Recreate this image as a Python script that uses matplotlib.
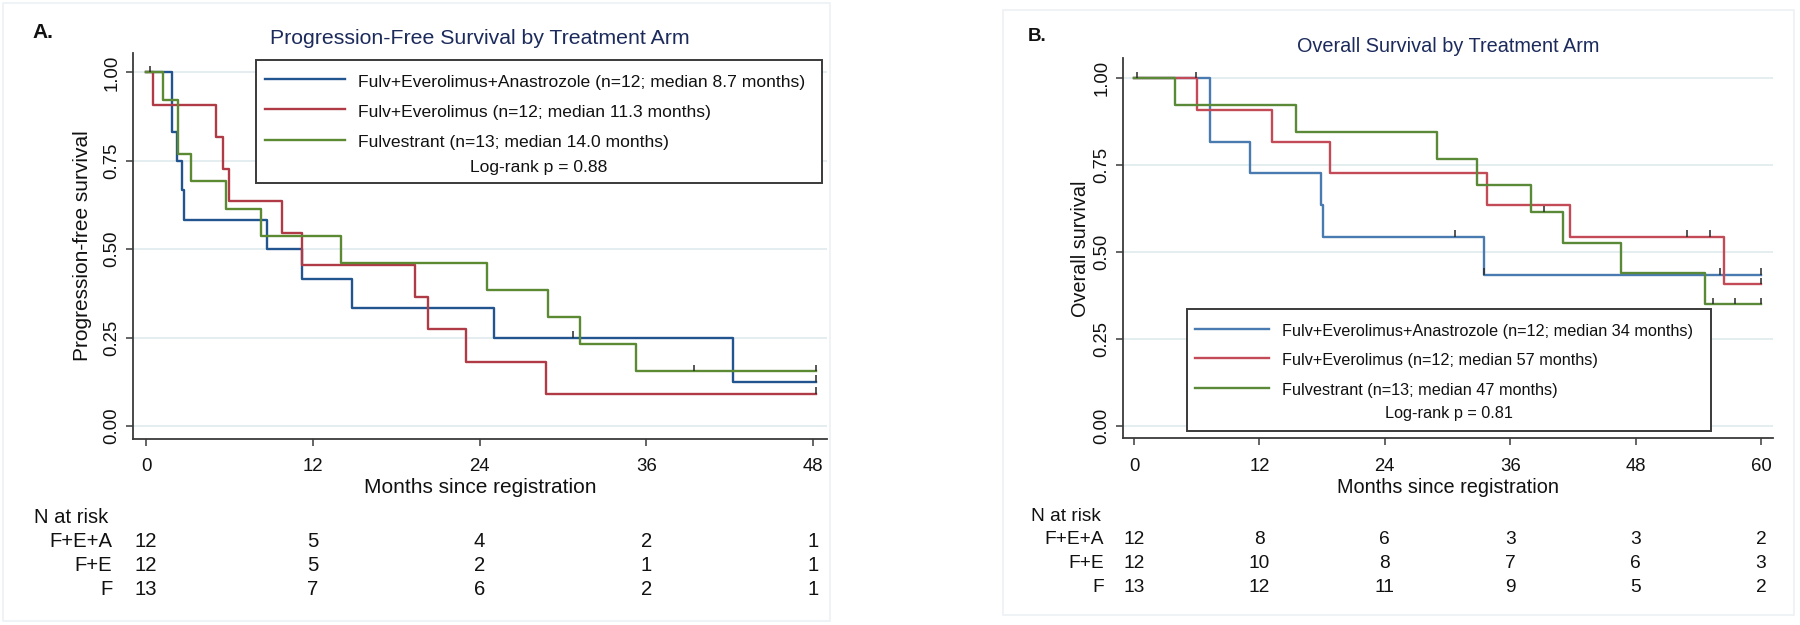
import matplotlib
matplotlib.use("Agg")
import numpy as np
import matplotlib.pyplot as plt
import matplotlib.transforms as mtransforms
from matplotlib.lines import Line2D
from matplotlib.patches import Rectangle

plt.rcParams['font.family'] = ['Liberation Sans', 'DejaVu Sans']

W, H = 1800, 625

# ---------------- Panel A: progression-free survival ----------------
pfs_xticks = [0, 12, 24, 36, 48]
pfs_fea_t = [0, 1.9, 2.2, 2.57, 2.76, 8.68, 11.2, 14.8, 25.06, 42.2, 48.2]
pfs_fea_s = [1.0, 0.833, 0.75, 0.667, 0.583, 0.5, 0.417, 0.333, 0.25, 0.125, 0.125]
pfs_fea_cens = [30.7, 48.2]
pfs_fe_t = [0, 0.53, 5.04, 5.5, 5.97, 9.8, 11.25, 19.35, 20.3, 23.0, 28.8, 48.2]
pfs_fe_s = [1.0, 0.909, 0.818, 0.727, 0.636, 0.545, 0.455, 0.364, 0.273, 0.182, 0.091, 0.091]
pfs_fe_cens = [0.29, 48.2]
pfs_f_t = [0, 1.2, 2.33, 3.26, 5.76, 8.3, 14.0, 24.55, 28.9, 31.2, 35.25, 48.2]
pfs_f_s = [1.0, 0.923, 0.769, 0.692, 0.615, 0.538, 0.462, 0.385, 0.308, 0.231, 0.154, 0.154]
pfs_f_cens = [39.4, 48.2]
pfs_labels = ['Fulv+Everolimus+Anastrozole (n=12; median 8.7 months)',
              'Fulv+Everolimus (n=12; median 11.3 months)',
              'Fulvestrant (n=13; median 14.0 months)']
pfs_logrank = 'Log-rank p = 0.88'
pfs_risk_fea = [12, 5, 4, 2, 1]
pfs_risk_fe = [12, 5, 2, 1, 1]
pfs_risk_f = [13, 7, 6, 2, 1]

# ---------------- Panel B: overall survival ----------------
os_xticks = [0, 12, 24, 36, 48, 60]
os_fea_t = [0, 7.27, 11.1, 17.9, 18.1, 33.5, 60.0]
os_fea_s = [1.0, 0.818, 0.727, 0.636, 0.545, 0.436, 0.436]
os_fea_cens = [0.3, 30.7, 33.5, 56.1, 60.0]
os_fe_t = [0, 6.06, 13.2, 18.8, 33.75, 41.7, 56.5, 60.0]
os_fe_s = [1.0, 0.909, 0.818, 0.727, 0.636, 0.545, 0.409, 0.409]
os_fe_cens = [5.93, 52.9, 55.1, 60.0]
os_f_t = [0, 3.92, 15.5, 28.97, 32.85, 38.0, 41.1, 46.6, 54.6, 60.0]
os_f_s = [1.0, 0.923, 0.846, 0.769, 0.692, 0.615, 0.527, 0.44, 0.352, 0.352]
os_f_cens = [39.2, 55.4, 57.5, 60.0]
os_labels = ['Fulv+Everolimus+Anastrozole (n=12; median 34 months)',
             'Fulv+Everolimus (n=12; median 57 months)',
             'Fulvestrant (n=13; median 47 months)']
os_logrank = 'Log-rank p = 0.81'
os_risk_fea = [12, 8, 6, 3, 3, 2]
os_risk_fe = [12, 10, 8, 7, 6, 3]
os_risk_f = [13, 12, 11, 9, 5, 2]

arm_names = ['F+E+A', 'F+E', 'F']
yticks = [0, 0.25, 0.5, 0.75, 1.0]

fig = plt.figure(figsize=(W / 100, H / 100), dpi=100)
fig.patch.set_facecolor('white')


def fx(x):
    return x / W


def fy(y):
    return 1 - y / H


def level_at(t, s, c):
    i = np.searchsorted(t, c, side='right') - 1
    return np.array(s)[i]


def panel(box, xlim, ylim, xticks, curves, colors, title, title_y, title_size,
          tag, tag_xy, tag_size, ylab, ylab_x, lab_size, tick_size, xlab_base,
          legend, risk, risk_rows, risk_size, frame):
    left, top, right, bottom = box
    # faint frame around the panel
    fx0, fy0, fx1, fy1 = frame
    fig.add_artist(Rectangle((fx(fx0), fy(fy1)), (fx1 - fx0) / W, (fy1 - fy0) / H,
                             transform=fig.transFigure, fill=False,
                             edgecolor='#edf1f5', lw=1.2, zorder=0))
    ax = fig.add_axes([fx(left), fy(bottom), (right - left) / W, (bottom - top) / H])
    ax.set_xlim(*xlim)
    ax.set_ylim(*ylim)
    for (t, s, cens), col in zip(curves, colors):
        ax.step(t, s, where='post', color=col, lw=1.7, zorder=3)
        lv = level_at(t, s, cens)
        ax.vlines(cens, lv, lv + 0.018, color='#2a2a2a', lw=1.1, zorder=4)
    ax.set_xticks(xticks)
    ax.set_yticks(yticks)
    ax.set_yticklabels(['%.2f' % v for v in yticks])
    ax.grid(axis='y', color='#e2ecef', lw=1.3)
    ax.set_axisbelow(True)
    for sp in ['top', 'right']:
        ax.spines[sp].set_visible(False)
    for sp in ['left', 'bottom']:
        ax.spines[sp].set_color('#3a3a3a')
        ax.spines[sp].set_linewidth(1.3)
    ax.tick_params(direction='out', length=5, width=1.1, color='#3a3a3a',
                   labelsize=tick_size, labelcolor='#111111')
    ax.tick_params(axis='x', pad=9)
    ax.tick_params(axis='y', pad=4, labelrotation=90)
    for lab in ax.get_yticklabels():
        lab.set_va('center')
    ax.set_ylabel(ylab, fontsize=lab_size, color='#111111')
    ax.yaxis.set_label_coords((ylab_x - left) / (right - left), 0.5)
    ax.set_xlabel('Months since registration', fontsize=lab_size, color='#111111')
    ax.xaxis.set_label_coords(0.5, (bottom - xlab_base) / (bottom - top))
    ax.xaxis.label.set_va('baseline')

    fig.text(fx((left + right) / 2), fy(title_y), title, ha='center', va='baseline',
             fontsize=title_size, color='#1c2b5c')
    fig.text(fx(tag_xy[0]), fy(tag_xy[1]), tag, ha='left', va='baseline',
             fontsize=tag_size, fontweight='bold', color='#111111')

    # legend box with log-rank note
    (bx0, by0, bx1, by1), (hx0, hx1), line_ys, text_x, text_ys, labels, note, note_y, lsize = legend
    fig.add_artist(Rectangle((fx(bx0), fy(by1)), (bx1 - bx0) / W, (by1 - by0) / H,
                             transform=fig.transFigure, facecolor='white',
                             edgecolor='#3a3a3a', lw=1.4, zorder=5))
    for ly, ty, lab, col in zip(line_ys, text_ys, labels, colors):
        fig.add_artist(Line2D([fx(hx0), fx(hx1)], [fy(ly), fy(ly)], transform=fig.transFigure,
                              color=col, lw=1.7, zorder=6))
        fig.text(fx(text_x), fy(ty), lab, ha='left', va='baseline', fontsize=lsize,
                 color='#111111', zorder=6)
    fig.text(fx((bx0 + bx1) / 2), fy(note_y), note, ha='center', va='baseline',
             fontsize=lsize, color='#111111', zorder=6)

    # number at risk table
    (nx, ny), name_right, row_ys = risk_rows
    fig.text(fx(nx), fy(ny), 'N at risk', ha='left', va='baseline', fontsize=risk_size,
             color='#111111')
    trans = mtransforms.blended_transform_factory(ax.transData, fig.transFigure)
    for name, counts, ry in zip(arm_names, risk, row_ys):
        fig.text(fx(name_right), fy(ry), name, ha='right', va='baseline',
                 fontsize=risk_size, color='#111111')
        for xv, n in zip(xticks, counts):
            ax.text(xv, fy(ry), str(n), transform=trans, ha='center', va='baseline',
                    fontsize=risk_size, color='#111111')
    return ax


colors_a = ['#22558f', '#b03a46', '#5b8a32']
colors_b = ['#4a7bb0', '#c24b57', '#5a8a38']

panel(box=(133, 52.7, 826.7, 439), xlim=(-0.94, 48.97), ylim=(-0.037, 1.056),
      xticks=pfs_xticks,
      curves=[(pfs_fea_t, pfs_fea_s, pfs_fea_cens), (pfs_fe_t, pfs_fe_s, pfs_fe_cens),
              (pfs_f_t, pfs_f_s, pfs_f_cens)],
      colors=colors_a, title='Progression-Free Survival by Treatment Arm', title_y=44.3,
      title_size=15.3, tag='A.', tag_xy=(32, 38.3), tag_size=15,
      ylab='Progression-free survival', ylab_x=91.7, lab_size=15, tick_size=13.4,
      xlab_base=493.3,
      legend=((256, 60, 822, 183.3), (265, 345), (79.3, 109.3, 140), 358,
              (87.3, 117.3, 147.3), pfs_labels, pfs_logrank, 171.7, 12.6),
      risk=[pfs_risk_fea, pfs_risk_fe, pfs_risk_f],
      risk_rows=((34, 522.7), 112.5, (546.7, 570.7, 595)), risk_size=14.6,
      frame=(2.5, 3.3, 830, 620.7))

panel(box=(1122.7, 58.3, 1773, 438.3), xlim=(-1.08, 61.15), ylim=(-0.0345, 1.0575),
      xticks=os_xticks,
      curves=[(os_fea_t, os_fea_s, os_fea_cens), (os_fe_t, os_fe_s, os_fe_cens),
              (os_f_t, os_f_s, os_f_cens)],
      colors=colors_b, title='Overall Survival by Treatment Arm', title_y=51.7,
      title_size=14.3, tag='B.', tag_xy=(1028, 40.7), tag_size=13.5,
      ylab='Overall survival', ylab_x=1089.6, lab_size=14.3, tick_size=13.3,
      xlab_base=492.7,
      legend=((1186.8, 309.3, 1711, 431), (1194.5, 1268.7), (329.3, 358.3, 387.7), 1281.5,
              (336, 365.3, 395), os_labels, os_logrank, 418.3, 11.7),
      risk=[os_risk_fea, os_risk_fe, os_risk_f],
      risk_rows=((1030.7, 520.7), 1104, (544, 567.7, 591.7)), risk_size=13.8,
      frame=(1002.6, 10, 1794, 615))

fig.savefig('out.png', dpi=100, facecolor='white')
